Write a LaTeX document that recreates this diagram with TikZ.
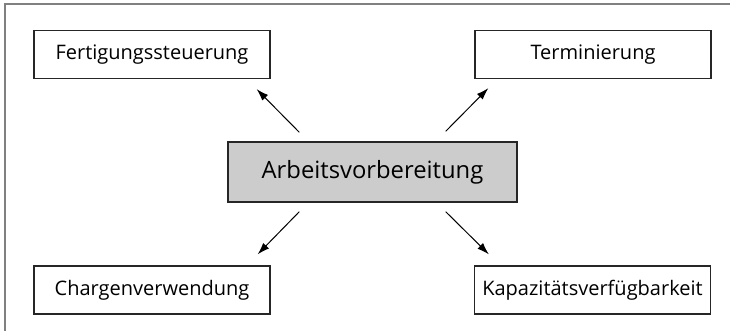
\documentclass[tikz,border=0pt]{standalone}
\usepackage{fontspec}
\setmainfont{Open Sans}
\usetikzlibrary{arrows.meta}
\tikzset{
  kasten/.style={draw=black!85, line width=1.3pt, fill=white, minimum width=236pt, minimum height=48pt, inner sep=0pt, font=\fontsize{20}{22}\selectfont},
  haupt/.style={kasten, fill=black!20, minimum width=289pt, minimum height=60pt, font=\fontsize{23.8}{26}\selectfont},
  pfeil/.style={-{Latex[length=12pt,width=8pt]}, line width=1pt}
}

\begin{document}
\begin{tikzpicture}[x=1pt, y=-1pt]
			%%%%% START %%%%%
			\useasboundingbox (0, 0) rectangle (730, 331);
			\draw[black!50, line width=1.5pt] (730, 4) -- (5, 4) -- (5, 331);
			
			\node[haupt] (arbeit) at (372.5, 172) {Arbeitsvorbereitung};
			
			\node[kasten] (fert) at (152, 54.5) {Fertigungssteuerung};
			\node[kasten] (term) at (593, 54.5) {Terminierung};
			\node[kasten] (charg) at (152, 290) {Chargenverwendung};
			\node[kasten] (kapa) at (592.5, 290) {Kapazitätsverfügbarkeit};
			
			\draw[pfeil] ([xshift=72pt, yshift=9pt]arbeit.north west) -- ([xshift=-14pt, yshift=-10pt]fert.south east);
			\draw[pfeil] ([xshift=-72pt, yshift=10pt]arbeit.north east) -- ([xshift=14pt, yshift=-9pt]term.south west);
			\draw[pfeil] ([xshift=72pt, yshift=-9pt]arbeit.south west) -- ([xshift=-13pt, yshift=11pt]charg.north east);
			\draw[pfeil] ([xshift=-72pt, yshift=-9pt]arbeit.south east) -- ([xshift=15pt, yshift=11pt]kapa.north west);
			%%%%% END %%%%%
\end{tikzpicture}
\end{document}
